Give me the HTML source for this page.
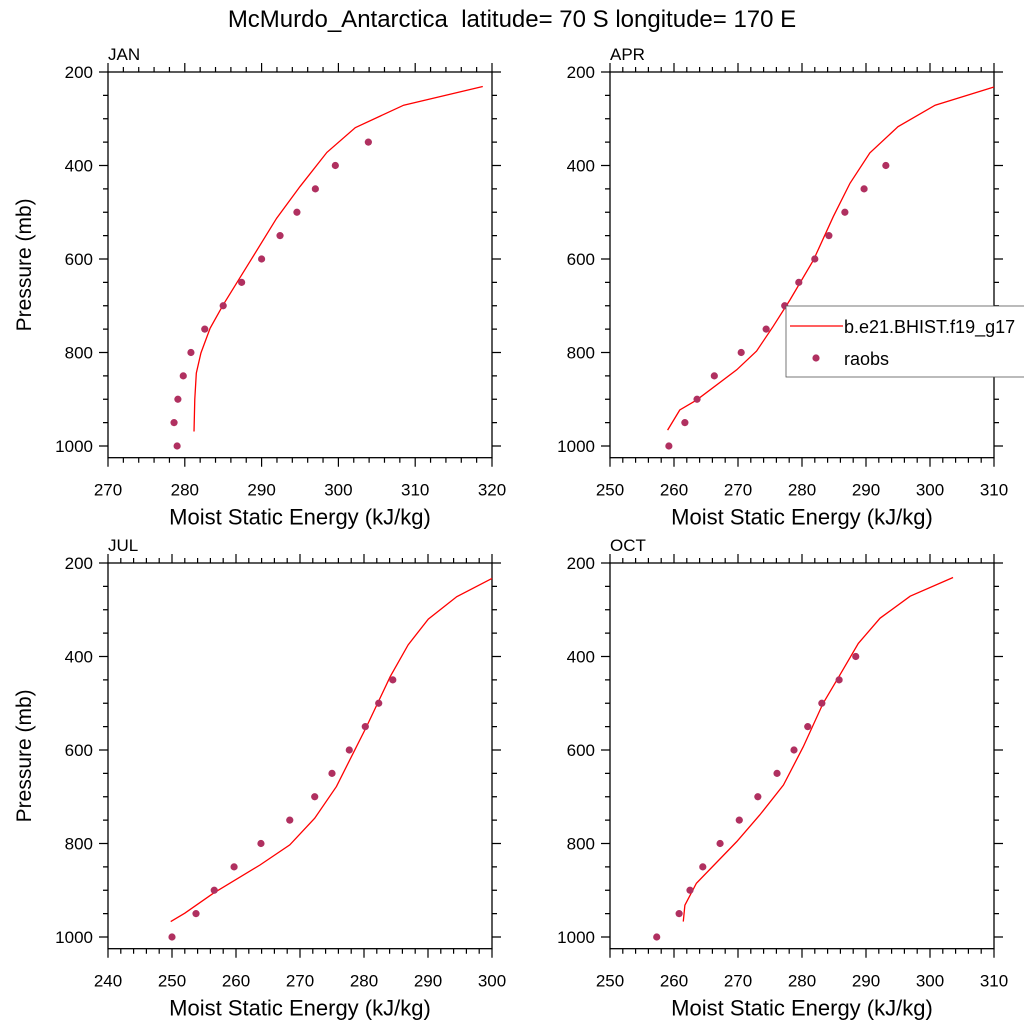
<!DOCTYPE html>
<html><head><meta charset="utf-8"><style>
body{margin:0;background:#fff;width:1024px;height:1024px;overflow:hidden}
text{font-family:"Liberation Sans",sans-serif;fill:#000}
</style></head><body>
<svg id="chart" width="1024" height="1024" xmlns="http://www.w3.org/2000/svg">
<text x="512" y="27" font-size="24" text-anchor="middle">McMurdo_Antarctica&#160; latitude= 70 S longitude= 170 E</text>
</svg>
<script>
const panelNames = ["JAN","APR","JUL","OCT"];
const xRanges = [[270,320],[250,310],[240,300],[250,310]];
const janLineP = [969,900,844,801,748,698,605,513,445,372,319,271,231];
const janLineX = [281.2,281.3,281.5,282.1,283.3,285.0,288.5,291.95,295,298.5,302.2,308.5,318.8];
const janObsP = [1000,950,900,850,800,750,700,650,600,550,500,450,400,350];
const janObsX = [279,278.6,279.1,279.8,280.8,282.6,285,287.4,290,292.4,294.6,297,299.6,303.9];
const aprLineP = [966,923,902,837,797,744,688,602,509,438,373,317,271,232];
const aprLineX = [259.0,260.9,263.5,269.8,272.9,275.5,278.1,281.8,284.9,287.5,290.6,295.0,300.8,310];
const aprObsP = [1000,950,900,850,800,750,700,650,600,550,500,450,400];
const aprObsX = [259.2,261.7,263.6,266.3,270.5,274.4,277.3,279.5,282,284.2,286.7,289.7,293.1];
const julLineP = [967,949,906,846,803,746,678,607,550,443,375,320,272,233];
const julLineX = [249.8,252.0,256.5,263.75,268.4,272.3,275.7,278.3,280.4,284.1,286.9,290.05,294.5,300];
const julObsP = [1000,950,900,850,800,750,700,650,600,550,500,450];
const julObsX = [250,253.75,256.6,259.7,263.9,268.4,272.3,275,277.7,280.2,282.3,284.5];
const octLineP = [967,932,885,796,739,675,593,500,440,372,318,271,231];
const octLineX = [261.45,261.7,263.5,269.8,273.4,277.1,280.2,283.3,285.9,288.8,292.2,296.9,303.6];
const octObsP = [1000,950,900,850,800,750,700,650,600,550,500,450,400];
const octObsX = [257.3,260.8,262.5,264.5,267.2,270.2,273.1,276.1,278.75,280.9,283.1,285.8,288.4];
const yTicks = [200,400,600,800,1000];
const lines = [[janLineX,janLineP],[aprLineX,aprLineP],[julLineX,julLineP],[octLineX,octLineP]];
const obs = [[janObsX,janObsP],[aprObsX,aprObsP],[julObsX,julObsP],[octObsX,octObsP]];
const origins = [[108,72],[610,72],[108,563],[610,563]];
const W=384, PXPERMB=0.4675, PMAX=1025;
const svg=document.getElementById('chart');
const NS='http://www.w3.org/2000/svg';
function mk(tag,attrs,parent){const e=document.createElementNS(NS,tag);for(const k in attrs)e.setAttribute(k,attrs[k]);(parent||svg).appendChild(e);return e;}
for(let i=0;i<4;i++){
  const [ox,oy]=origins[i],[x0,x1]=xRanges[i];
  const H=(PMAX-200)*PXPERMB;
  const sx=v=>ox+(v-x0)/(x1-x0)*W, sy=p=>oy+(p-200)*PXPERMB;
  const g=mk('g',{});
  
  
  const fr=mk('rect',{x:ox,y:oy,width:W,height:H,fill:'none',stroke:'#000','stroke-width':1.3},g);
  
  
  let d='';
  for(let v=x0;v<=x1+1e-6;v+=2){const L=((v-x0)%10===0)?9:5;const X=sx(v);d+=`M${X},${oy+H}v${L}M${X},${oy}v${-L}`;}
  for(let p=200;p<=PMAX;p+=50){const L=(p%200===0)?9:5;const Y=sy(p);d+=`M${ox},${Y}h${-L}M${ox+W},${Y}h${L}`;}
  const tk=mk('path',{d:d,stroke:'#000','stroke-width':1.2,fill:'none'},g);
  
  
  for(let v=x0;v<=x1;v+=10){const t=mk('text',{x:sx(v),y:oy+H+38,'font-size':17,'text-anchor':'middle'},g);t.textContent=v;
    
    }
  for(const p of yTicks){const t=mk('text',{x:ox-15,y:sy(p)+6,'font-size':17,'text-anchor':'end'},g);t.textContent=p;
    
    }
  const xt=mk('text',{x:ox+W/2,y:oy+H+67,'font-size':22,'text-anchor':'middle'},g);xt.textContent='Moist Static Energy (kJ/kg)';
  
  
  if(ox<300){const yt=mk('text',{x:0,y:0,'font-size':21,'text-anchor':'middle',transform:`translate(31,${oy+H/2}) rotate(-90)`},g);yt.textContent='Pressure (mb)';
    
    }
  const pt=mk('text',{x:ox,y:oy-12,'font-size':17},g);pt.textContent=panelNames[i];
  
  
  const [lx,lp]=lines[i];
  const ln=mk('polyline',{points:lx.map((v,k)=>sx(v)+','+sy(lp[k])).join(' '),fill:'none',stroke:'#ff0000','stroke-width':1.3},g);
  
  
  const [bx,bp]=obs[i];
  bx.forEach((v,k)=>{const c=mk('circle',{cx:sx(v),cy:sy(bp[k]),r:3.6,fill:'#b03060'},g);
    
    });
}
const lg=mk('g',{});


mk('rect',{x:786,y:306,width:250,height:71,fill:'#fff',stroke:'#555','stroke-width':0.8},lg);
const l1=mk('line',{x1:790,y1:326,x2:843,y2:326,stroke:'#ff0000','stroke-width':1.3},lg);


const t1=mk('text',{x:844,y:333,'font-size':18},lg);t1.textContent='b.e21.BHIST.f19_g17';


const c2=mk('circle',{cx:816,cy:358,r:3.6,fill:'#b03060'},lg);


const t2=mk('text',{x:844,y:365,'font-size':18},lg);t2.textContent='raobs';


</script>
</body></html>
